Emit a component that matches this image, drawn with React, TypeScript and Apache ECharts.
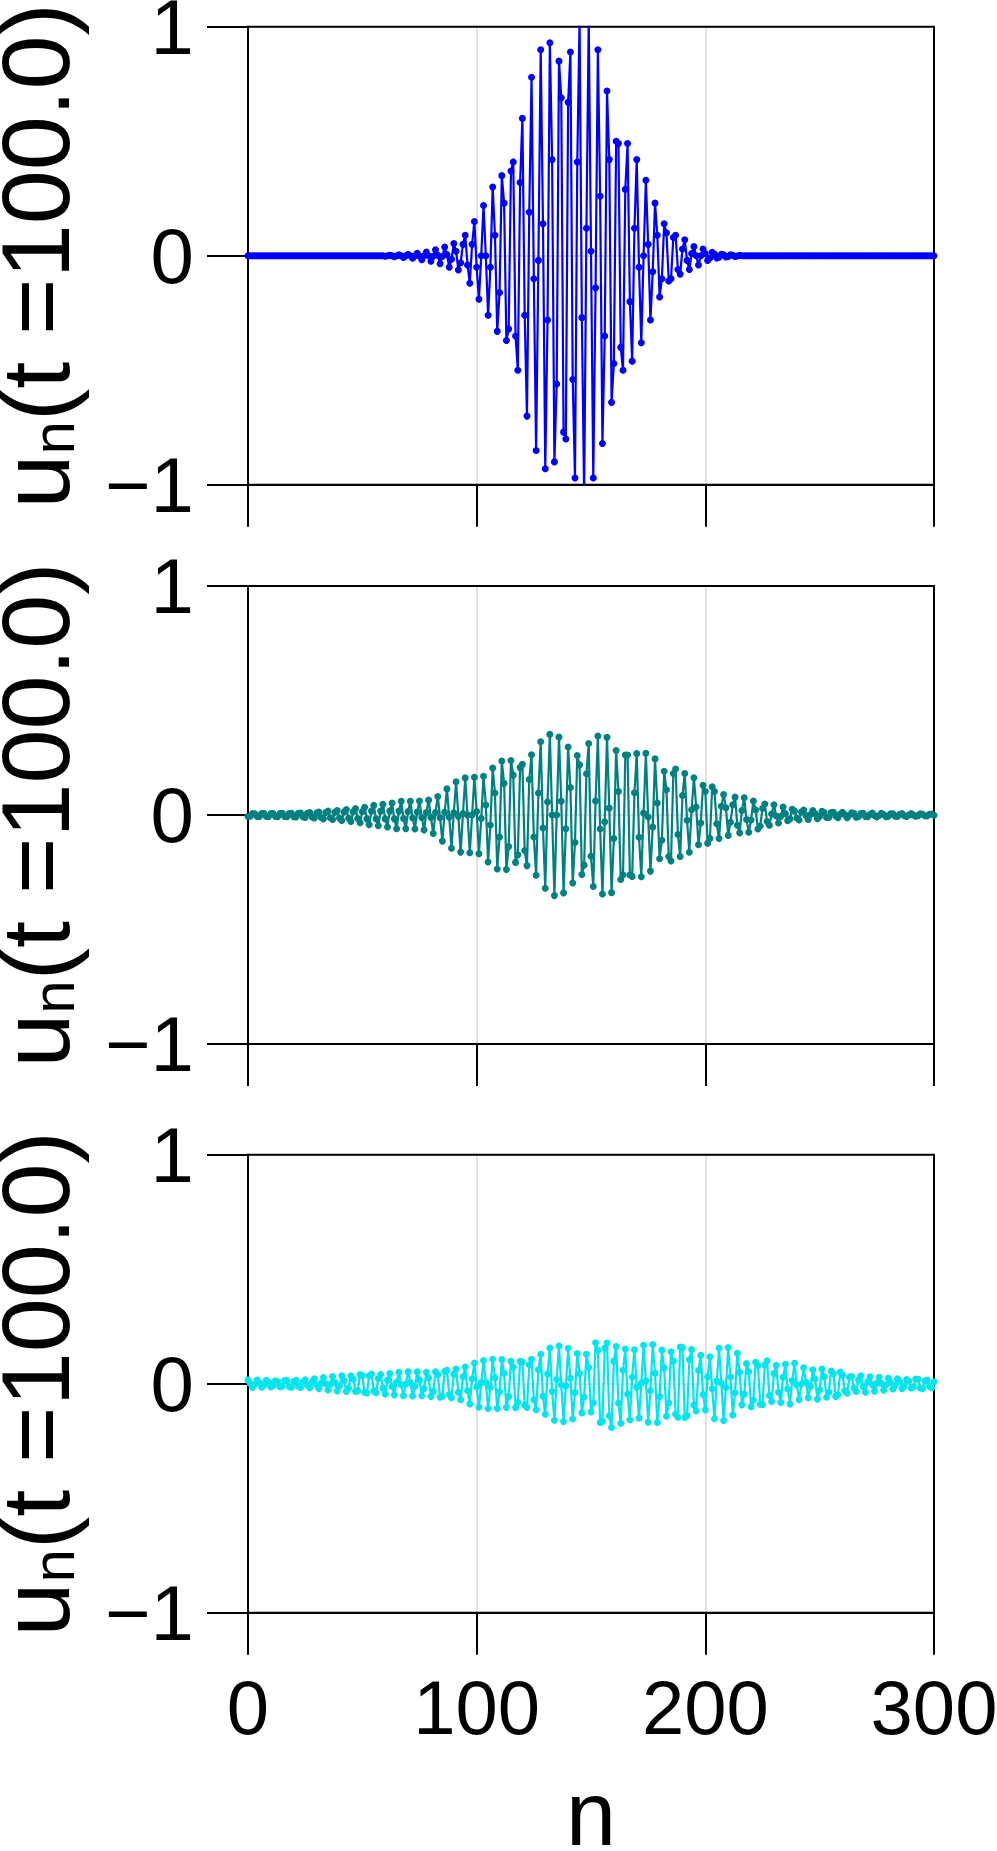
import React, { useEffect, useRef } from "react";
import * as echarts from "echarts";

// ---------- data ----------
const X_MIN = 0;
const X_MAX = 300;
const X_INTERVAL = 100;
const Y_MIN = -1;
const Y_MAX = 1;
const Y_INTERVAL = 1;
const Y_LABEL_MAIN = "u";
const Y_LABEL_SUB = "n";
const Y_LABEL_REST = "(t =100.0)";
const X_LABEL = "n";

// blue panel: values for n = BLUE_START ... (outside this run the values are 0)
const BLUE_START = 60;
const blueValues = [
  -0.002, 0, 0.002, 0,
  -0.004, 0, 0.004, 0,
  -0.007, 0, 0.007, 0,
  -0.011, 0, 0.011, -0.002,
  -0.017, 0, 0.016, 0,
  -0.024, -0.002, 0.026, 0.002,
  -0.035, -0.003, 0.038, 0.006,
  -0.05, -0.015, 0.054, 0.02,
  -0.062, -0.03, 0.05, 0.09,
  -0.04, -0.12, 0.05, 0.15,
  -0.05, -0.19, 0.0, 0.22,
  0.0, -0.26, -0.05, 0.3,
  0.09, -0.33, -0.16, 0.35,
  0.23, -0.37, -0.32, 0.37,
  0.41, -0.35, -0.5, 0.32,
  0.6, -0.26, -0.7, 0.19,
  0.78, -0.1, -0.85, -0.02,
  0.9, 0.14, -0.93, -0.28,
  0.93, 0.42, -0.9, -0.56,
  0.85, 0.69, -0.77, -0.8,
  0.67, 0.89, -0.54, -0.97,
  0.41, 1.03, -0.27, -1.04,
  0.12, 1.03, 0.02, -0.97,
  -0.14, 0.9, 0.26, -0.82,
  -0.35, 0.72, 0.42, -0.64,
  -0.47, 0.5, 0.49, -0.4,
  -0.5, 0.29, 0.49, -0.2,
  -0.46, 0.12, 0.42, -0.05,
  -0.38, 0.0, 0.33, 0.05,
  -0.28, -0.07, 0.23, 0.09,
  -0.18, -0.1, 0.14, 0.1,
  -0.11, -0.1, 0.08, 0.09,
  -0.06, -0.08, 0.03, 0.07,
  -0.02, -0.06, 0.01, 0.04,
  0.0, -0.04, 0.0, 0.03,
  0.01, -0.02, -0.01, 0.015,
  0.008, -0.01, -0.006, 0.007,
  0.004, -0.005, -0.003, 0.004,
  0.002, -0.003, -0.001, 0.002,
];

// teal panel: n = 0 ... 300
const tealValues = [
  -0.006, -0.005, 0.006, 0.005,
  -0.006, -0.006, 0.006, 0.006,
  -0.006, -0.006, 0.006, 0.006,
  -0.006, -0.007, 0.006, 0.007,
  -0.006, -0.008, 0.006, 0.008,
  -0.007, -0.009, 0.007, 0.009,
  -0.008, -0.011, 0.008, 0.011,
  -0.009, -0.013, 0.009, 0.013,
  -0.011, -0.017, 0.011, 0.017,
  -0.012, -0.02, 0.012, 0.02,
  -0.013, -0.024, 0.013, 0.024,
  -0.014, -0.028, 0.014, 0.028,
  -0.015, -0.034, 0.015, 0.034,
  -0.017, -0.042, 0.017, 0.042,
  -0.017, -0.047, 0.017, 0.047,
  -0.017, -0.052, 0.017, 0.052,
  -0.017, -0.06, 0.017, 0.06,
  -0.015, -0.06, 0.015, 0.06,
  -0.013, -0.061, 0.013, 0.061,
  -0.011, -0.065, 0.011, 0.065,
  -0.011, -0.081, 0.011, 0.081,
  -0.012, -0.114, 0.012, 0.114,
  -0.01, -0.145, 0.01, 0.145,
  -0.006, -0.162, 0.006, 0.162,
  0.0, -0.165, 0.0, 0.165,
  0.015, -0.169, -0.015, 0.169,
  0.044, -0.205, -0.044, 0.205,
  0.096, -0.236, -0.096, 0.236,
  0.138, -0.238, -0.138, 0.238,
  0.174, -0.207, -0.174, 0.207,
  0.221, -0.155, -0.221, 0.155,
  0.263, -0.096, -0.263, 0.096,
  0.32, -0.057, -0.32, 0.057,
  0.352, 0.0, -0.352, 0.0,
  0.34, 0.06, -0.34, -0.06,
  0.297, 0.12, -0.297, -0.12,
  0.26, 0.219, -0.26, -0.219,
  0.18, 0.312, -0.18, -0.312,
  0.061, 0.345, -0.061, -0.345,
  -0.03, 0.339, 0.03, -0.339,
  -0.103, 0.282, 0.103, -0.282,
  -0.262, 0.262, 0.262, -0.262,
  -0.268, 0.097, 0.268, -0.097,
  -0.27, 0.009, 0.27, -0.009,
  -0.245, -0.052, 0.245, 0.052,
  -0.191, -0.11, 0.191, 0.11,
  -0.181, -0.201, 0.181, 0.201,
  -0.085, -0.181, 0.085, 0.181,
  -0.023, -0.163, 0.023, 0.163,
  0.035, -0.13, -0.035, 0.13,
  0.103, -0.123, -0.103, 0.123,
  0.103, -0.038, -0.103, 0.038,
  0.089, 0.032, -0.089, -0.032,
  0.045, 0.078, -0.045, -0.078,
  0.02, 0.075, -0.02, -0.075,
  -0.022, 0.061, 0.022, -0.061,
  -0.048, 0.028, 0.048, -0.028,
  -0.045, 0.004, 0.045, -0.004,
  -0.035, -0.006, 0.035, 0.006,
  -0.025, -0.017, 0.025, 0.017,
  -0.013, -0.022, 0.013, 0.022,
  -0.002, -0.02, 0.002, 0.02,
  0.006, -0.016, -0.006, 0.016,
  0.011, -0.011, -0.011, 0.011,
  0.012, -0.004, -0.012, 0.004,
  0.012, 0.001, -0.012, -0.001,
  0.01, 0.006, -0.01, -0.006,
  0.006, 0.008, -0.006, -0.008,
  0.002, 0.009, -0.002, -0.009,
  -0.002, 0.008, 0.002, -0.008,
  -0.005, 0.005, 0.005, -0.005,
  -0.006, 0.003, 0.006, -0.003,
  -0.006, 0.0, 0.006, 0.0,
  -0.005, -0.003, 0.005, 0.003,
  -0.003, -0.004, 0.003, 0.004,
  -0.001,
];

// cyan panel: n = 0 ... 300
const cyanValues = [
  0.016, 0.001, -0.016, -0.003,
  0.016, 0.004, -0.015, -0.006,
  0.015, 0.007, -0.014, -0.008,
  0.013, 0.009, -0.013, -0.011,
  0.014, 0.014, -0.013, -0.015,
  0.01, 0.015, -0.009, -0.016,
  0.008, 0.017, -0.006, -0.017,
  0.006, 0.022, -0.004, -0.022,
  0.002, 0.027, 0.0, -0.027,
  -0.003, 0.032, 0.006, -0.031,
  -0.01, 0.035, 0.014, -0.034,
  -0.018, 0.035, 0.021, -0.033,
  -0.031, 0.04, 0.035, -0.038,
  -0.04, 0.035, 0.043, -0.031,
  -0.039, 0.023, 0.041, -0.019,
  -0.044, 0.016, 0.045, -0.012,
  -0.049, 0.008, 0.05, -0.004,
  -0.052, -0.002, 0.052, 0.006,
  -0.053, -0.011, 0.052, 0.016,
  -0.052, -0.021, 0.05, 0.026,
  -0.055, -0.034, 0.053, 0.04,
  -0.059, -0.054, 0.054, 0.059,
  -0.047, -0.061, 0.042, 0.064,
  -0.037, -0.07, 0.031, 0.073,
  -0.029, -0.088, 0.021, 0.091,
  -0.014, -0.102, 0.005, 0.102,
  0.005, -0.108, -0.015, 0.107,
  0.026, -0.108, -0.035, 0.106,
  0.046, -0.103, -0.055, 0.098,
  0.072, -0.104, -0.082, 0.098,
  0.095, -0.094, -0.103, 0.083,
  0.107, -0.07, -0.113, 0.061,
  0.129, -0.054, -0.133, 0.043,
  0.156, -0.034, -0.159, 0.019,
  0.165, -0.005, -0.165, -0.01,
  0.155, 0.024, -0.154, -0.038,
  0.132, 0.045, -0.127, -0.058,
  0.129, 0.071, -0.123, -0.084,
  0.179, 0.146, -0.169, -0.164,
  0.155, 0.178, -0.14, -0.191,
  0.099, 0.163, -0.084, -0.172,
  0.059, 0.152, -0.045, -0.157,
  0.029, 0.149, -0.015, -0.15,
  0.002, 0.168, 0.013, -0.168,
  -0.03, 0.172, 0.046, -0.169,
  -0.056, 0.147, 0.069, -0.142,
  -0.085, 0.14, 0.099, -0.132,
  -0.146, 0.161, 0.158, -0.147,
  -0.139, 0.105, 0.15, -0.093,
  -0.119, 0.058, 0.124, -0.047,
  -0.114, 0.031, 0.118, -0.022,
  -0.153, 0.012, 0.155, 0.002,
  -0.16, -0.016, 0.158, 0.03,
  -0.136, -0.039, 0.133, 0.05,
  -0.092, -0.045, 0.088, 0.053,
  -0.1, -0.072, 0.094, 0.08,
  -0.089, -0.091, 0.082, 0.1,
  -0.051, -0.077, 0.045, 0.081,
  -0.037, -0.082, 0.029, 0.085,
  -0.023, -0.088, 0.014, 0.09,
  -0.005, -0.07, -0.001, 0.07,
  0.007, -0.061, -0.012, 0.061,
  0.021, -0.067, -0.027, 0.065,
  0.031, -0.059, -0.037, 0.056,
  0.044, -0.055, -0.048, 0.051,
  0.038, -0.031, -0.041, 0.029,
  0.032, -0.018, -0.034, 0.016,
  0.035, -0.012, -0.037, 0.009,
  0.031, -0.004, -0.032, 0.002,
  0.028, 0.001, -0.028, -0.004,
  0.024, 0.005, -0.023, -0.007,
  0.022, 0.009, -0.021, -0.011,
  0.019, 0.012, -0.018, -0.014,
  0.021, 0.02, -0.018, -0.021,
  0.012, 0.016, -0.011, -0.017,
  0.009,
];

// ---------- layout & style ----------
const W = 997;
const H = 1851;
const GRID_LEFT = 248;
const GRID_WIDTH = 686;
const PANEL_TOPS = [26.8, 586, 1154.8];
const PANEL_H = 458;
const COLORS = ["#0000ff", "#008080", "#00e5ee"];
const FONT = "'Liberation Sans', Arial, Helvetica, sans-serif";
const GRID_GRAY = "rgba(0,0,0,0.12)";

function buildSeriesData(): number[][][] {
  const blue: number[][] = [];
  const teal: number[][] = [];
  const cyan: number[][] = [];
  for (let n = X_MIN; n <= X_MAX; n++) {
    const bi = n - BLUE_START;
    const bv = bi >= 0 && bi < blueValues.length ? blueValues[bi] : 0;
    blue.push([n, bv]);
    teal.push([n, tealValues[n] ?? 0]);
    cyan.push([n, cyanValues[n] ?? 0]);
  }
  return [blue, teal, cyan];
}

function buildOption() {
  const data = buildSeriesData();
  const blackLine = { color: "#000", width: 2 };
  const idx = [0, 1, 2];
  return {
    animation: false,
    backgroundColor: "#ffffff",
    grid: PANEL_TOPS.map((top) => ({
      left: GRID_LEFT,
      top,
      width: GRID_WIDTH,
      height: PANEL_H,
      show: true,
      borderColor: "#000",
      borderWidth: 2,
      backgroundColor: "transparent",
      containLabel: false,
      outerBoundsMode: "none",
    })),
    xAxis: idx.map((i) => ({
      type: "value",
      gridIndex: i,
      min: X_MIN,
      max: X_MAX,
      interval: X_INTERVAL,
      axisLine: { show: true, onZero: false, lineStyle: blackLine },
      axisTick: { show: true, inside: false, length: 42, lineStyle: blackLine },
      axisLabel: {
        show: i === 2,
        fontSize: 76,
        color: "#000",
        margin: 57,
        fontFamily: FONT,
      },
      splitLine: { show: true, lineStyle: { color: GRID_GRAY, width: 2 } },
      name: i === 2 ? X_LABEL : "",
      nameLocation: "middle",
      nameGap: 151,
      nameMoveOverlap: false,
      nameTextStyle: { fontSize: 90, color: "#000", fontFamily: FONT, lineHeight: 100 },
    })),
    yAxis: idx.map((i) => ({
      type: "value",
      gridIndex: i,
      min: Y_MIN,
      max: Y_MAX,
      interval: Y_INTERVAL,
      axisLine: { show: true, onZero: false, lineStyle: blackLine },
      axisTick: { show: true, inside: false, length: 41, lineStyle: blackLine },
      axisLabel: {
        fontSize: 78,
        color: "#000",
        margin: 54,
        fontFamily: FONT,
        formatter: (v: number) => (v < 0 ? "\u2212" + Math.abs(v) : String(v)),
      },
      splitLine: { show: true, lineStyle: { color: GRID_GRAY, width: 2 } },
      name: `{u|${Y_LABEL_MAIN}}{s|${Y_LABEL_SUB}}{r|${Y_LABEL_REST}}`,
      nameLocation: "middle",
      nameRotate: 90,
      nameGap: 165,
      nameMoveOverlap: false,
      nameTextStyle: {
        color: "#000",
        fontFamily: FONT,
        rich: {
          u: { fontSize: 97, lineHeight: 96, fontFamily: FONT, color: "#000" },
          s: { fontSize: 60, lineHeight: 70, verticalAlign: "bottom", fontFamily: FONT, color: "#000" },
          r: { fontSize: 97, lineHeight: 96, fontFamily: FONT, color: "#000" },
        },
      },
    })),
    series: idx.map((i) => ({
      type: "line",
      xAxisIndex: i,
      yAxisIndex: i,
      data: data[i],
      symbol: "circle",
      symbolSize: 7,
      showSymbol: true,
      showAllSymbol: true,
      clip: true,
      silent: true,
      z: 3,
      lineStyle: { width: 2.2, color: COLORS[i] },
      itemStyle: { color: COLORS[i] },
      emphasis: { disabled: true },
    })),
  };
}

export default function App() {
  const ref = useRef<HTMLDivElement>(null);
  useEffect(() => {
    if (!ref.current) return;
    const chart = echarts.init(ref.current, null, { renderer: "svg" });
    chart.setOption(buildOption() as any);
    return () => chart.dispose();
  }, []);
  return (
    <div
      ref={ref}
      style={{ position: "absolute", left: 0, top: 0, width: W, height: H, background: "#fff" }}
    />
  );
}
